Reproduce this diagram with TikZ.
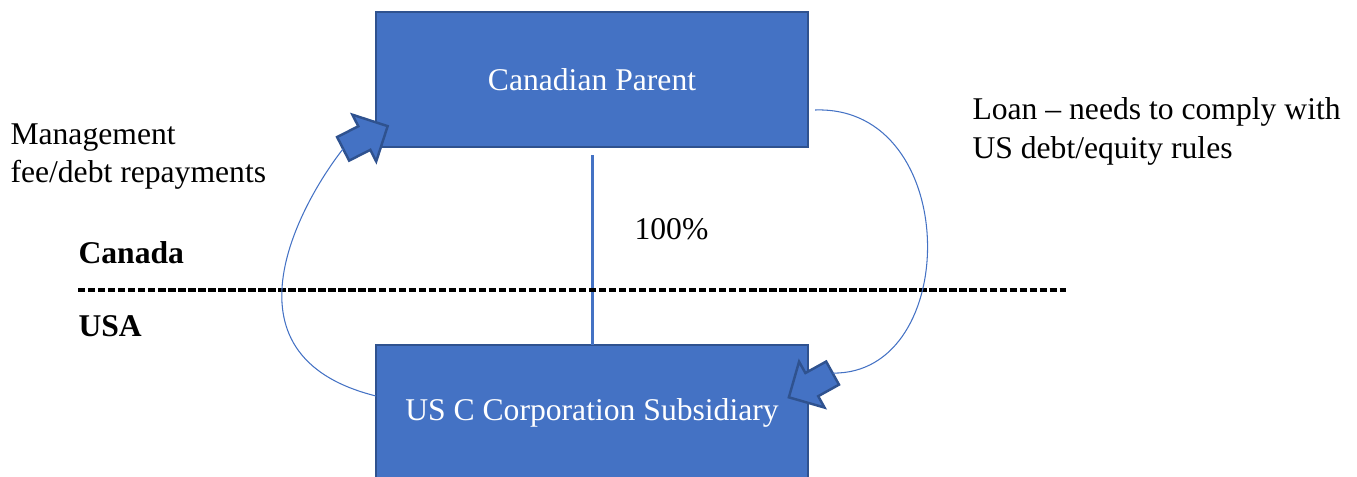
\documentclass[tikz,border=0pt]{standalone}
\usepackage{fontspec}
\setmainfont{Liberation Serif}
\usetikzlibrary{shapes.arrows}
\definecolor{boxblue}{HTML}{4472C4}
\definecolor{edgeblue}{HTML}{2F528F}
\tikzset{
	entity/.style={draw=edgeblue,line width=1.1pt,fill=boxblue,text=white,minimum width=8.64cm,minimum height=2.7cm,inner sep=0pt},
	fatarrow/.style={single arrow,draw=edgeblue,line width=1.4pt,fill=boxblue,inner xsep=0pt,inner ysep=0.24cm,minimum width=1cm,single arrow head extend=0.26cm,minimum height=1cm},
	flow/.style={draw=boxblue,line width=0.6pt},
}
\begin{document}
\begin{tikzpicture}[inner sep=2pt,outer sep=0pt,font=\fontsize{18}{22}\selectfont]
			\useasboundingbox (0,0) rectangle (27.14,9.52) ;
			\node[entity] (parent) at (11.84,7.93) {Canadian Parent} ;
			\node[entity] (sub) at (11.84,1.27) {US C Corporation Subsidiary} ;
			\draw[boxblue,line width=1.7pt] ([yshift=-0.16cm]parent.south) -- (sub.north) ;
			\node (share) at (13.43,4.94) {100\%} ;
			% border line
			\draw[line width=2.4pt,dash pattern=on 4.2pt off 1.5pt] (1.56,3.72) -- (21.32,3.72) ;
			\node[anchor=west,font=\fontsize{18}{22}\selectfont\bfseries] (ca) at (1.5,4.46) {Canada} ;
			\node[anchor=west,font=\fontsize{18}{22}\selectfont\bfseries] (us) at (1.5,3.0) {USA} ;
			\node[anchor=west,align=left] (fees) at (0.14,6.39) {Management\\fee/debt repayments} ;
			\node[anchor=west,align=left] (loan) at (19.38,6.89) {Loan -- needs to comply with\\US debt/equity rules} ;
			% payment flows
			\node[fatarrow,rotate=27] (la) at (7.19,6.71) {} ;
			\node[fatarrow,rotate=209] (ra) at (16.33,1.88) {} ;
			\coordinate (loanstart) at (16.30,7.32) ;
			\draw[flow] ([yshift=0.33cm]sub.west) .. controls (4.22,2.42) and (6.10,5.58) .. (la.tail) ;
			\draw[flow] (loanstart) .. controls (19.24,7.42) and (19.24,2.02) .. (ra.tail) ;
		\end{tikzpicture}
\end{document}
